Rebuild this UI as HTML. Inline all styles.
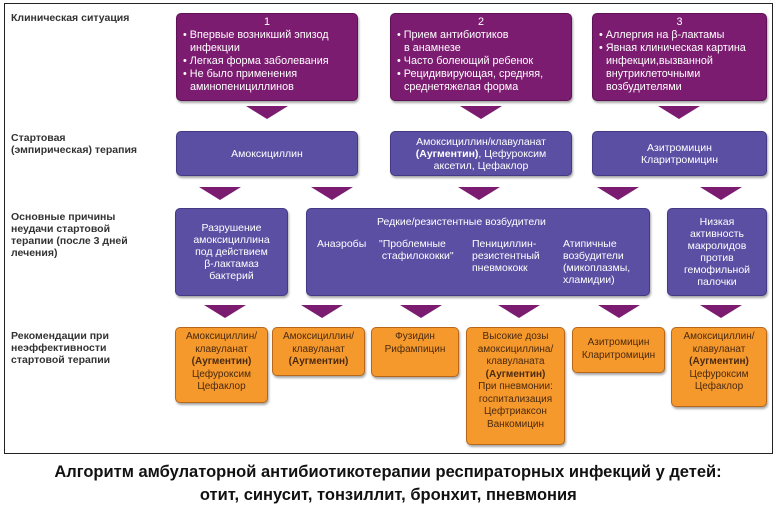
<!DOCTYPE html>
<html><head><meta charset="utf-8"><style>
*{margin:0;padding:0;box-sizing:border-box}
body{width:776px;height:512px;background:#fff;position:relative;overflow:hidden;font-family:"Liberation Sans","DejaVu Sans",sans-serif}
.frame{position:absolute;left:4px;top:3px;width:769px;height:451px;border:1.5px solid #222}
.b{position:absolute;border-radius:5px;color:#fff;font-size:10.5px;line-height:12px;box-shadow:1px 2px 2px rgba(0,0,0,.35)}
.p{background:#7c1c70;border:1px solid #5e1155;padding-top:2px;line-height:13px;font-size:10.8px}
.v{background:#5a4fa3;border:1px solid #433a86;display:flex;align-items:center;justify-content:center;text-align:center}
.o{background:#f5992c;border:1.5px solid #b8661a;color:#4a2a10;text-align:center;padding-top:3px;font-size:10px;line-height:12.5px}
.p ul{list-style:none;padding:0 4px 0 6px}
.p li{padding-left:7px;text-indent:-7px}
.p .n{text-align:center}
.t{position:absolute;width:0;height:0;border-left:21px solid transparent;border-right:21px solid transparent;border-top:13px solid #7c1c70}
.l{position:absolute;left:11px;font-weight:bold;font-size:10.5px;line-height:12px;color:#333}
.cap{position:absolute;left:0;width:776px;text-align:center;font-family:"Liberation Sans Narrow","Liberation Sans",sans-serif;font-weight:bold;font-size:17px;color:#111;line-height:22px}
</style></head><body>
<div class="frame"></div>
<div class="l" style="top:12px">Клиническая ситуация</div>
<div class="l" style="top:132px">Стартовая<br>(эмпирическая) терапия</div>
<div class="l" style="top:211px">Основные причины<br>неудачи стартовой<br>терапии (после 3 дней<br>лечения)</div>
<div class="l" style="top:330px">Рекомендации при<br>неэффективности<br>стартовой терапии</div>

<div class="b p" style="left:176px;top:13px;width:182px;height:88px"><div class="n">1</div><ul><li>• Впервые возникший эпизод инфекции</li><li>• Легкая форма заболевания</li><li>• Не было применения аминопенициллинов</li></ul></div>
<div class="b p" style="left:390px;top:13px;width:182px;height:88px"><div class="n">2</div><ul><li>• Прием антибиотиков<br>в анамнезе</li><li>• Часто болеющий ребенок</li><li>• Рецидивирующая, средняя, среднетяжелая форма</li></ul></div>
<div class="b p" style="left:592px;top:13px;width:175px;height:88px"><div class="n">3</div><ul><li>• Аллергия на β-лактамы</li><li>• Явная клиническая картина инфекции,вызванной внутриклеточными возбудителями</li></ul></div>

<div class="t" style="left:246px;top:106px"></div>
<div class="t" style="left:460px;top:106px"></div>
<div class="t" style="left:658px;top:106px"></div>

<div class="b v" style="left:176px;top:131px;width:182px;height:45px"><div>Амоксициллин</div></div>
<div class="b v" style="left:390px;top:131px;width:182px;height:45px"><div>Амоксициллин/клавуланат<br><b>(Аугментин)</b>, Цефуроксим<br>аксетил, Цефаклор</div></div>
<div class="b v" style="left:592px;top:131px;width:175px;height:45px"><div>Азитромицин<br>Кларитромицин</div></div>

<div class="t" style="left:199px;top:187px"></div>
<div class="t" style="left:311px;top:187px"></div>
<div class="t" style="left:458px;top:187px"></div>
<div class="t" style="left:597px;top:187px"></div>
<div class="t" style="left:700px;top:187px"></div>

<div class="b v" style="left:175px;top:208px;width:113px;height:88px"><div>Разрушение<br>амоксициллина<br>под действием<br>β-лактамаз<br>бактерий</div></div>
<div class="b v" style="left:306px;top:208px;width:344px;height:88px;display:block;text-align:left">
<div style="position:absolute;left:70px;top:7px">Редкие/резистентные возбудители</div>
<div style="position:absolute;left:10px;top:29px">Анаэробы</div>
<div style="position:absolute;left:72px;top:29px">"Проблемные<br>&nbsp;стафилококки"</div>
<div style="position:absolute;left:165px;top:29px">Пенициллин-<br>резистентный<br>пневмококк</div>
<div style="position:absolute;left:256px;top:29px">Атипичные<br>возбудители<br>(микоплазмы,<br>хламидии)</div>
</div>
<div class="b v" style="left:667px;top:208px;width:100px;height:88px"><div>Низкая<br>активность<br>макролидов<br>против<br>гемофильной<br>палочки</div></div>

<div class="t" style="left:204px;top:305px"></div>
<div class="t" style="left:301px;top:305px"></div>
<div class="t" style="left:400px;top:305px"></div>
<div class="t" style="left:498px;top:305px"></div>
<div class="t" style="left:598px;top:305px"></div>
<div class="t" style="left:700px;top:305px"></div>

<div class="b o" style="left:175px;top:327px;width:93px;height:76px">Амоксициллин/<br>клавуланат<br><b>(Аугментин)</b><br>Цефуроксим<br>Цефаклор</div>
<div class="b o" style="left:272px;top:327px;width:93px;height:49px">Амоксициллин/<br>клавуланат<br><b>(Аугментин)</b></div>
<div class="b o" style="left:371px;top:327px;width:88px;height:50px">Фузидин<br>Рифампицин</div>
<div class="b o" style="left:466px;top:327px;width:99px;height:118px">Высокие дозы<br>амоксициллина/<br>клавуланата<br><b>(Аугментин)</b><br>При пневмонии:<br>госпитализация<br>Цефтриаксон<br>Ванкомицин</div>
<div class="b o" style="left:572px;top:327px;width:93px;height:46px;padding-top:9px">Азитромицин<br>Кларитромицин</div>
<div class="b o" style="left:671px;top:327px;width:96px;height:80px">Амоксициллин/<br>клавуланат<br><b>(Аугментин)</b><br>Цефуроксим<br>Цефаклор</div>

<div class="cap" style="top:461px"><span style="display:inline-block;transform:scaleX(0.97)">Алгоритм амбулаторной антибиотикотерапии респираторных инфекций у детей:</span></div>
<div class="cap" style="top:484px"><span style="display:inline-block;transform:scaleX(0.97)">отит, синусит, тонзиллит, бронхит, пневмония</span></div>
</body></html>
